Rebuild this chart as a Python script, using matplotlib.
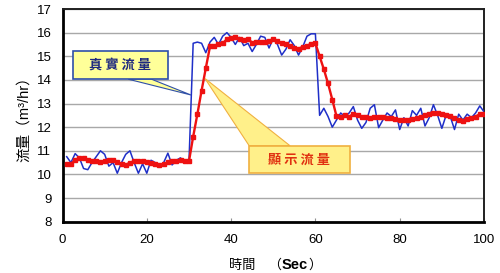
import numpy as np
import matplotlib
matplotlib.use('Agg')
import matplotlib.pyplot as plt
from matplotlib.patches import Rectangle, Polygon

# time axis (sec)
t = list(range(1, 101))

# actual flow (blue)
real_flow = [10.75, 10.5, 10.88, 10.7, 10.25, 10.2, 10.5, 10.75, 11.0, 10.85,
             10.35, 10.5, 10.05, 10.5, 10.85, 11.0, 10.5, 10.05, 10.45, 10.05,
             10.6, 10.5, 10.3, 10.5, 10.9, 10.4, 10.6, 10.7, 10.5, 10.5,
             15.55, 15.6, 15.55, 15.15, 15.6, 15.8, 15.5, 15.85, 16.0, 15.8,
             15.5, 15.8, 15.45, 15.55, 15.2, 15.5, 15.85, 15.8, 15.35, 15.75,
             15.5, 15.05, 15.3, 15.7, 15.45, 15.05, 15.4, 15.85, 15.95, 15.95,
             12.5, 12.8, 12.45, 12.0, 12.3, 12.6, 12.45, 12.6, 12.87, 12.3,
             11.95, 12.2, 12.8, 12.95, 11.98, 12.3, 12.6, 12.45, 12.73, 11.9,
             12.4, 12.05, 12.7, 12.5, 12.8, 12.05, 12.4, 12.95, 12.5, 11.95,
             12.5, 12.45, 11.9, 12.55, 12.3, 12.55, 12.4, 12.6, 12.9, 12.65]

# displayed flow (red)
shown_flow = [10.42, 10.45, 10.6, 10.7, 10.68, 10.6, 10.55, 10.55, 10.52, 10.55,
              10.6, 10.6, 10.52, 10.45, 10.4, 10.5, 10.55, 10.57, 10.55, 10.52,
              10.5, 10.45, 10.4, 10.42, 10.52, 10.55, 10.58, 10.6, 10.55, 10.55,
              11.6, 12.55, 13.55, 14.5, 15.42, 15.45, 15.5, 15.55, 15.72, 15.78,
              15.82, 15.75, 15.7, 15.72, 15.58, 15.6, 15.62, 15.6, 15.65, 15.72,
              15.65, 15.55, 15.5, 15.42, 15.35, 15.32, 15.4, 15.45, 15.52, 15.55,
              15.0, 14.45, 13.85, 13.17, 12.47, 12.45, 12.5, 12.45, 12.55, 12.5,
              12.45, 12.42, 12.4, 12.42, 12.45, 12.42, 12.4, 12.38, 12.35, 12.3,
              12.32, 12.3, 12.35, 12.4, 12.45, 12.5, 12.55, 12.62, 12.6, 12.55,
              12.5, 12.48, 12.4, 12.3, 12.28, 12.35, 12.4, 12.45, 12.55, 12.55]

xticks = [0, 20, 40, 60, 80, 100]
yticks = list(range(8, 18))

cjk = ['Liberation Sans', 'Noto Sans CJK TC']
plt.rcParams['font.family'] = cjk

fig = plt.figure(figsize=(5, 2.73), dpi=100)
ax = fig.add_axes([0.125, 0.188, 0.843, 0.779])

ax.plot(t, real_flow, color='#1F2FC8', lw=1.1, zorder=3)
ax.plot(t, shown_flow, color='#EE1111', lw=1.7, marker='s', markersize=3.2, zorder=4)

ax.set_xlim(0, 100)
ax.set_ylim(8, 17)
ax.set_xticks(xticks)
ax.set_yticks(yticks)
ax.yaxis.grid(True, color='#A8A8A8', lw=1)
ax.set_axisbelow(True)
ax.tick_params(axis='y', length=0, pad=8, labelsize=9.5)
ax.tick_params(axis='x', direction='in', length=3, color='#909090', pad=9, labelsize=9.5)
for s in ['left', 'bottom']:
    ax.spines[s].set_linewidth(2)
for s in ['top', 'right']:
    ax.spines[s].set_linewidth(1.4)
    ax.spines[s].set_color('#202020')

# callout: 真實流量
ax.add_patch(Polygon([(15.6, 14.03), (21.1, 14.03), (30.5, 13.36)], closed=True,
                     facecolor='#FFFF99', edgecolor='#2F4FA8', lw=0.8, zorder=5))
ax.add_patch(Rectangle((2.4, 14.03), 22.7, 1.19, facecolor='#FFFF99',
                       edgecolor='#2F4FA8', lw=1.2, zorder=6))
ax.text(13.75, 14.62, '真 實 流 量', ha='center', va='center', fontsize=9.5,
        fontweight='bold', color='#1F2A80', family='Noto Sans CJK TC', zorder=7)

# callout: 顯示流量
ax.add_patch(Polygon([(44.3, 11.21), (54.0, 11.21), (33.8, 14.06)], closed=True,
                     facecolor='#FFF08A', edgecolor='#F0B040', lw=0.8, zorder=5))
ax.add_patch(Rectangle((44.3, 10.04), 23.8, 1.17, facecolor='#FFF08A',
                       edgecolor='#F0B040', lw=1.2, zorder=6))
ax.text(56.2, 10.62, '顯 示 流 量', ha='center', va='center', fontsize=9.5,
        fontweight='bold', color='#E03010', family='Noto Sans CJK TC', zorder=7)

ax.set_ylabel('流量（m³/hr）', fontsize=10.5, labelpad=4)

# x label: 時間　（Sec）
t1 = ax.text(0.395, -0.235, '時間　（', transform=ax.transAxes, fontsize=9.5,
             ha='left', va='bottom')
t2 = ax.annotate('Sec', xy=(1, 0), xycoords=t1, fontsize=10.5, fontweight='bold',
                 ha='left', va='bottom', family='Liberation Sans')
ax.annotate('）', xy=(1, 0), xycoords=t2, fontsize=9.5, ha='left', va='bottom')

plt.savefig('out.png', dpi=100)
